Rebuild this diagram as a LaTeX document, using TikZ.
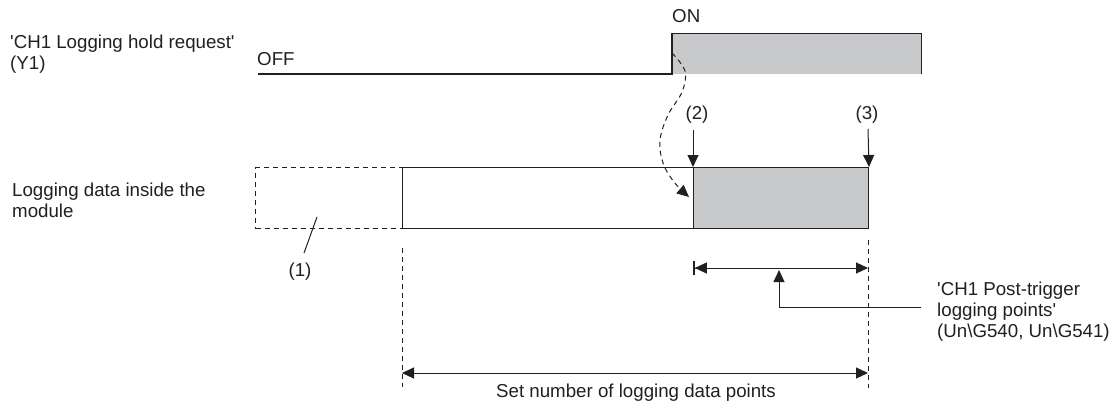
\documentclass[tikz,border=0pt]{standalone}
\usepackage{fontspec}
\setmainfont{Liberation Sans}
\usetikzlibrary{arrows.meta}
\definecolor{ink}{RGB}{35,31,32}
\definecolor{fillg}{RGB}{200,201,203}
\newcommand{\sq}{\textquotesingle}
\begin{document}
\begin{tikzpicture}[x=1pt,y=-1pt,
  txt/.style={font=\fontsize{18.7}{21}\selectfont, text=ink, inner sep=0pt},
  sig/.style={draw=ink, line width=1.3pt},
  box/.style={draw=ink, line width=1pt, minimum height=61pt, inner sep=0pt, anchor=north west},
  dsh/.style={draw=ink, line width=1pt, dash pattern=on 5pt off 4pt},
  tri/.tip={Triangle[length=12pt,width=11pt]},
  arr/.style={draw=ink, line width=1pt, -tri},
  lead/.style={draw=ink, line width=1pt}]
\useasboundingbox (0,0) rectangle (1113,407);

% texts
\node[txt, anchor=north west, align=left] (hold) at (10,35) {\sq CH1 Logging hold request\sq\\(Y1)};
\node[txt, anchor=base west] (off) at (257,65) {OFF};
\node[txt, anchor=base west] (on) at (672,22) {ON};
\node[txt, anchor=north west, align=left] (mod) at (12,183) {Logging data inside the\\module};

% signal
\coordinate (off0) at (258,74);
\node[fill=fillg, inner sep=0pt, minimum width=249pt, minimum height=40pt, anchor=south west] (hi) at (672,74) {};
\draw[sig] (off0) -- (hi.south west) -- (hi.north west) -- (hi.north east) -- (hi.south east);

% logging data boxes
\node[box, dsh, minimum width=147pt] (old) at (255,167) {};
\node[box, minimum width=291pt] (buf) at (402,167) {};
\node[box, fill=fillg, minimum width=175pt] (post) at (693,167) {};

% (2) and (3)
\node[txt, anchor=base] (l2) at (697,119) {(2)};
\node[txt, anchor=base] (l3) at (867,119) {(3)};
\coordinate (a2) at (693,130);
\coordinate (a3) at (868,129);
\draw[arr] (a2) -- (post.north west);
\draw[arr] (a3) -- (post.north east);

% dashed trigger curve
\coordinate (cs) at (672,53);
\coordinate (ce) at (689,197);
\draw[dsh, -tri] plot[smooth, tension=0.6] coordinates {(cs) (685,71) (682,92) (668,115) (660,140) (663,163) (674,182) (ce)};

% (1)
\node[txt, anchor=base] (l1) at (300,276) {(1)};
\coordinate (p1a) at (317,217);
\coordinate (p1b) at (304,253);
\draw[lead] (p1a) -- (p1b);

% vertical dashed guides
\coordinate (g1t) at (402,248);
\coordinate (g1b) at (402,387);
\coordinate (g2t) at (868,240);
\coordinate (g2b) at (868,388);
\draw[dsh] (g1t) -- (g1b);
\draw[dsh] (g2t) -- (g2b);

% post-trigger span
\coordinate (pt1) at (693,268);
\coordinate (pt2) at (868,268);
\draw[draw=ink, line width=1pt, {Bar[width=14pt,line width=1.8pt]tri}-tri] (pt1) -- (pt2);
\node[txt, anchor=north west, align=left] (ptl) at (937,282) {\sq CH1 Post-trigger\\logging points\sq\\(Un\textbackslash G540, Un\textbackslash G541)};
\coordinate (ua) at (779,270);
\coordinate (ub) at (921,307);
\draw[arr] (ub) -| (ua);

% set number span
\coordinate (s1) at (402,373);
\coordinate (s2) at (868,373);
\draw[draw=ink, line width=1pt, tri-tri] (s1) -- (s2);
\node[txt, anchor=base] (sl) at (636,397) {Set number of logging data points};
\end{tikzpicture}
\end{document}
